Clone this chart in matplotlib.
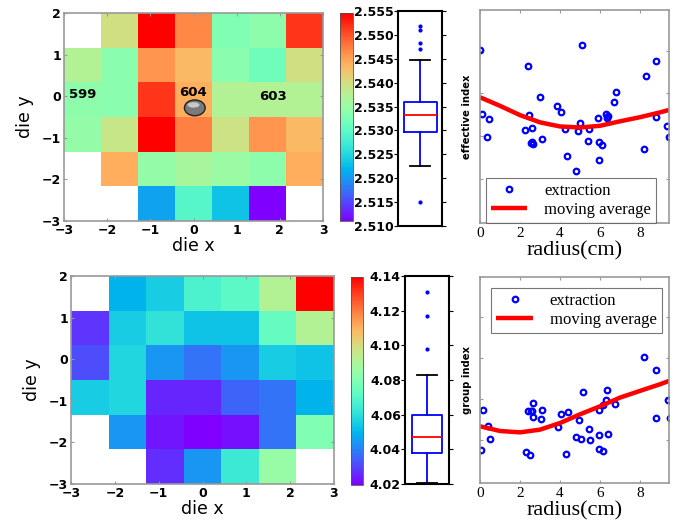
import numpy as np
import matplotlib
matplotlib.use('Agg')
import matplotlib.pyplot as plt
from matplotlib.patches import Ellipse

# ---- die maps (rows from top y=2 down to y=-3, columns x=-3..3) ----
nan = np.nan
eff_map = [
    [nan, 2.5397, 2.5550, 2.5469, 2.5325, 2.5339, 2.5519],
    [2.5370, 2.5334, 2.5460, 2.5433, 2.5334, 2.5312, 2.5397],
    [2.5339, 2.5334, 2.5519, 2.5442, 2.5370, 2.5370, 2.5370],
    [2.5343, 2.5388, 2.5550, 2.5474, 2.5393, 2.5460, 2.5433],
    [nan, 2.5442, 2.5343, 2.5361, 2.5348, 2.5339, 2.5442],
    [nan, nan, 2.5199, 2.5289, 2.5226, 2.5100, nan],
]
grp_map = [
    [nan, 4.0500, 4.0560, 4.0680, 4.0716, 4.0920, 4.1400],
    [4.0284, 4.0560, 4.0620, 4.0536, 4.0536, 4.0740, 4.0920],
    [4.0320, 4.0584, 4.0440, 4.0380, 4.0440, 4.0560, 4.0536],
    [4.0560, 4.0584, 4.0260, 4.0260, 4.0356, 4.0380, 4.0500],
    [nan, 4.0440, 4.0236, 4.0200, 4.0224, 4.0380, 4.0800],
    [nan, nan, 4.0272, 4.0440, 4.0644, 4.0860, nan],
]
eff_range = (2.510, 2.555)
grp_range = (4.02, 4.14)
eff_ticks = [2.510, 2.515, 2.520, 2.525, 2.530, 2.535, 2.540, 2.545, 2.550, 2.555]
grp_ticks = [4.02, 4.04, 4.06, 4.08, 4.10, 4.12, 4.14]

die_labels = ['599', '604', '603']
die_label_x = [-2.56, -0.01, 1.84]
die_label_y = [0.05, 0.08, 0.0]
probe_xy = (0.03, -0.28)

# ---- box plot summaries ----
eff_box = dict(med=2.5333, q1=2.5297, q3=2.5360, whislo=2.5225, whishi=2.5448,
               fliers=[2.5518, 2.5510, 2.5483, 2.5470, 2.5150])
grp_box = dict(med=4.047, q1=4.038, q3=4.060, whislo=4.0205, whishi=4.083,
               fliers=[4.131, 4.117, 4.098])

# ---- radius scatter: effective index ----
eff_r = [0.0, 0.12, 0.47, 0.33, 2.42, 2.45, 2.25, 2.58, 2.6, 2.63, 2.53, 3.0, 3.08,
         3.87, 4.03, 4.25, 4.37, 4.78, 4.9, 5.02, 5.12, 5.43, 5.4, 5.88, 5.93, 5.95,
         6.12, 6.3, 6.37, 6.4, 6.68, 6.78, 8.18, 8.32, 8.8, 8.82, 9.37, 9.47]
eff_val = [2.5504, 2.5317, 2.5302, 2.5251, 2.5456, 2.5315, 2.5272, 2.5277, 2.5235,
           2.5230, 2.5232, 2.5366, 2.5245, 2.5341, 2.5322, 2.5273, 2.5194, 2.5150,
           2.5268, 2.5292, 2.5518, 2.5274, 2.5240, 2.5306, 2.5236, 2.5184, 2.5226,
           2.5317, 2.5307, 2.5312, 2.5351, 2.5380, 2.5214, 2.5428, 2.5471, 2.5308,
           2.5281, 2.5251]
eff_avg_r = [0, 1, 2, 3, 4, 5, 6, 7, 8, 9, 9.45]
eff_avg = [2.5366, 2.5341, 2.5314, 2.5293, 2.5281, 2.5278, 2.5283, 2.5296, 2.5308,
           2.5322, 2.5329]

# ---- radius scatter: group index ----
grp_r = [0.03, 0.17, 0.38, 0.52, 2.3, 2.5, 2.42, 2.53, 2.6, 2.67, 2.67, 3.08, 3.05,
         3.92, 4.03, 4.3, 4.42, 4.8, 4.93, 5.03, 5.13, 5.45, 5.48, 5.93, 5.97, 5.93,
         6.13, 6.13, 6.3, 6.37, 6.42, 6.75, 8.22, 8.8, 8.8, 9.38, 9.48]
grp_val = [4.0287, 4.0721, 4.0548, 4.0401, 4.0258, 4.0228, 4.0714, 4.0714, 4.0714,
           4.0802, 4.0648, 4.0721, 4.0629, 4.0537, 4.0677, 4.0243, 4.0703, 4.0427,
           4.0611, 4.0401, 4.0924, 4.0511, 4.0397, 4.0445, 4.0721, 4.0298, 4.0272,
           4.0784, 4.0839, 4.0949, 4.0464, 4.0787, 4.1310, 4.1170, 4.0640, 4.0839,
           4.0640]
grp_avg_r = [0, 1, 2, 3, 4, 5, 6, 7, 8, 9, 9.45]
grp_avg = [4.0545, 4.0493, 4.0478, 4.0508, 4.0581, 4.0677, 4.0765, 4.0861, 4.0935,
           4.1008, 4.1045]

W, H = 689, 524
fig = plt.figure(figsize=(W / 100, H / 100), dpi=100)


def box_px(l, t, r, b):
    return fig.add_axes([l / W, 1 - b / H, (r - l) / W, (b - t) / H])


def die_map(ax, vals, rng):
    im = ax.imshow(np.array(vals), cmap='rainbow', vmin=rng[0], vmax=rng[1],
                   extent=[-3, 3, -3, 2], aspect='auto', interpolation='nearest')
    ax.set_xlim(-3, 3)
    ax.set_ylim(-3, 2)
    ax.set_xticks(range(-3, 4))
    ax.set_yticks(range(-3, 3))
    ax.tick_params(labelsize=9, direction='in', length=2, color='#999999',
                   top=True, right=True, pad=2)
    for lab in ax.get_xticklabels() + ax.get_yticklabels():
        lab.set_fontweight('bold')
    for s in ax.spines.values():
        s.set_color('#999999')
        s.set_linewidth(1.2)
    ax.set_xlabel('die x', fontsize=12.5, labelpad=0)
    ax.set_ylabel('die y', fontsize=12.5, labelpad=6)
    return im


def cbar(cax, im):
    cb = fig.colorbar(im, cax=cax)
    cb.set_ticks([])
    cb.outline.set_linewidth(0.6)
    cb.outline.set_edgecolor('#555555')


def box(ax, stats, rng, ticks, fmt, width):
    ax.bxp([stats], positions=[1], widths=width, showfliers=True,
           boxprops=dict(color='blue', linewidth=1.3),
           whiskerprops=dict(color='blue', linewidth=1.3, linestyle='-'),
           capprops=dict(color='black', linewidth=1.3),
           medianprops=dict(color='red', linewidth=1.3),
           flierprops=dict(marker='.', markersize=4, markerfacecolor='blue',
                           markeredgecolor='blue'),
           capwidths=0.45)
    ax.set_xlim(0.5, 1.5)
    ax.set_ylim(*rng)
    ax.set_xticks([])
    ax.set_yticks(ticks)
    ax.set_yticklabels([fmt % t for t in ticks], fontweight='bold', fontsize=9)
    ax.tick_params(axis='y', direction='out', length=3, pad=0, right=True)
    for s in ax.spines.values():
        s.set_linewidth(1.5)


def radius_plot(ax, r, v, ar, av, ylim, ylabel, legloc, leganchor):
    ax.plot(r, v, 'o', mfc='none', mec='blue', mew=1.6, ms=4, label='extraction')
    ax.plot(ar, av, color='red', linewidth=3.2, label='moving average',
            solid_capstyle='butt')
    ax.set_xlim(0, 9.45)
    ax.set_ylim(*ylim)
    ax.set_xticks([0, 2, 4, 6, 8])
    ax.set_yticks(np.linspace(ylim[0], ylim[1], 6)[1:5] + (ylim[1] - ylim[0]) * 0.008)
    ax.set_yticklabels([])
    ax.tick_params(direction='in', length=2, color='#999999', top=True, right=True,
                   labelsize=11, pad=3)
    for lab in ax.get_xticklabels():
        lab.set_fontfamily('Liberation Serif')
    for s in ax.spines.values():
        s.set_color('#999999')
        s.set_linewidth(1.2)
    ax.set_xlabel('radius(cm)', fontsize=16, family='Liberation Serif', labelpad=1)
    ax.set_ylabel(ylabel, fontsize=8, fontweight='bold', fontstretch='condensed',
                  labelpad=3)
    leg = ax.legend(loc=legloc, bbox_to_anchor=leganchor, fancybox=False,
                    prop=dict(family='Liberation Serif', size=12),
                    handlelength=2.2, borderpad=0.3, labelspacing=0.2,
                    handletextpad=1.0, borderaxespad=0)
    leg.get_frame().set_edgecolor('#555555')
    leg.get_frame().set_linewidth(0.8)


# top row: effective index
ax1 = box_px(64, 13, 323, 221)
im1 = die_map(ax1, eff_map, eff_range)
for t, x, y in zip(die_labels, die_label_x, die_label_y):
    ax1.text(x, y, t, fontsize=9.5, fontweight='bold', ha='center', va='center')
ax1.add_patch(Ellipse(probe_xy, 0.48, 0.38, facecolor='#7a7a7a', edgecolor='#222222',
                      linewidth=1.0, zorder=5))
ax1.add_patch(Ellipse((probe_xy[0] - 0.03, probe_xy[1] + 0.07), 0.28, 0.13,
                      facecolor='#c8c8c8', edgecolor='none', zorder=6))
cbar(box_px(340, 13, 353, 221), im1)
box(box_px(398, 11, 442, 226), eff_box, eff_range, eff_ticks, '%.3f', 0.75)
radius_plot(box_px(480, 10, 669, 223), eff_r, eff_val, eff_avg_r, eff_avg,
            (2.500, 2.562), 'effective index', 'lower left', (0.03, 0.0))

# bottom row: group index
ax2 = box_px(71, 276, 334, 484)
im2 = die_map(ax2, grp_map, grp_range)
cbar(box_px(351, 277, 363, 485), im2)
box(box_px(405, 276, 449, 484), grp_box, grp_range, grp_ticks, '%.2f', 0.7)
radius_plot(box_px(480, 277, 669, 483), grp_r, grp_val, grp_avg_r, grp_avg,
            (3.992, 4.219), 'group index', 'upper left', (0.06, 0.947))

fig.savefig('out.png', dpi=100)
